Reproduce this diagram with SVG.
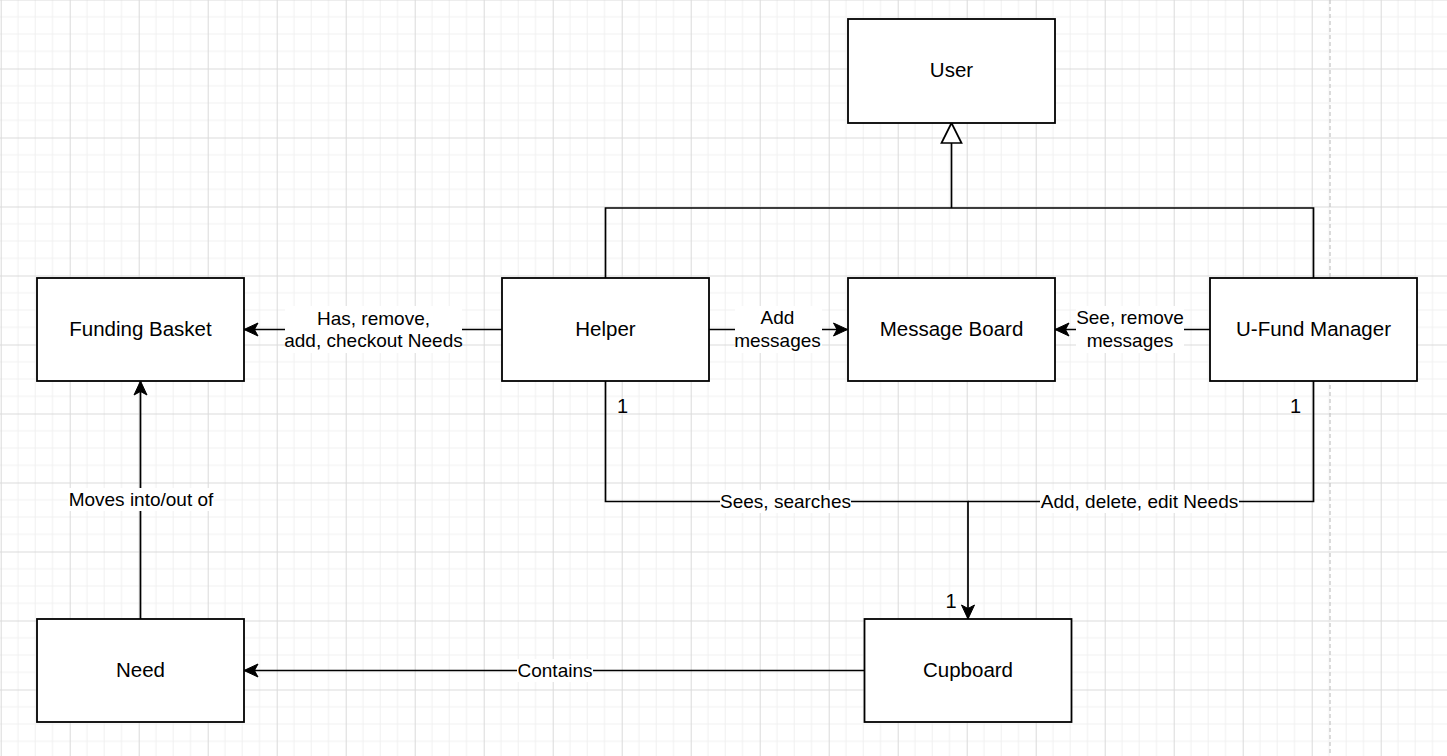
<svg xmlns="http://www.w3.org/2000/svg" width="1447" height="756" viewBox="0 0 1447 756">
<style>
.box{fill:#fff;stroke:#000;stroke-width:1.8}
.ln{fill:none;stroke:#000;stroke-width:1.7}
.nt{font-family:"Liberation Sans",Arial,sans-serif;font-size:20.5px;fill:#000;text-anchor:middle}
.et{font-family:"Liberation Sans",Arial,sans-serif;font-size:19px;fill:#000;text-anchor:middle}
.mt{font-family:"Liberation Sans",Arial,sans-serif;font-size:20px;fill:#000;text-anchor:middle}
.bg{fill:#fff}
</style>
<defs>
<pattern id="grid" x="0.7" y="-0.5" width="69" height="69" patternUnits="userSpaceOnUse">
<path d="M17.25,0V69M34.5,0V69M51.75,0V69M0,17.25H69M0,34.5H69M0,51.75H69" fill="none" stroke="#f0f0f0" stroke-width="1"/>
<path d="M0.5,0V69M0,0.5H69" fill="none" stroke="#dadada" stroke-width="1"/>
</pattern>
<marker id="arrow" viewBox="0 0 16 16" refX="15" refY="8" markerWidth="16" markerHeight="16" markerUnits="userSpaceOnUse" orient="auto">
<path d="M15,8 L1,1.5 L4.5,8 L1,14.5 Z" fill="#000" stroke="#000" stroke-width="1"/>
</marker>
<marker id="tri" viewBox="0 0 24 24" refX="22" refY="12" markerWidth="24" markerHeight="24" markerUnits="userSpaceOnUse" orient="auto">
<path d="M22,12 L2,2 L2,22 Z" fill="#fff" stroke="#000" stroke-width="1.7"/>
</marker>
</defs>
<rect width="1447" height="756" fill="#fff"/>
<rect width="1447" height="756" fill="url(#grid)"/>
<line x1="1330" y1="0" x2="1330" y2="756" stroke="#c4c4c4" stroke-width="1.2" stroke-dasharray="4 3"/>

<g id="connectors">
<path class="ln" d="M605.5,278 V208 H1313.5 V278"/>
<path class="ln" d="M951.5,208 V123" marker-end="url(#tri)"/>
<path class="ln" d="M502,329.5 H244" marker-end="url(#arrow)"/>
<path class="ln" d="M709,329.5 H847.5" marker-end="url(#arrow)"/>
<path class="ln" d="M1210,329.5 H1055" marker-end="url(#arrow)"/>
<path class="ln" d="M605.5,381 V501.5 H968 V619" marker-end="url(#arrow)"/>
<path class="ln" d="M1313.5,381 V501.5 H968"/>
<path class="ln" d="M864,670.5 H244" marker-end="url(#arrow)"/>
<path class="ln" d="M140.5,619 V381" marker-end="url(#arrow)"/>

<rect class="bg" x="285" y="306" width="177" height="47"/>
<text class="et" x="373.5" y="324.5">Has, remove,</text>
<text class="et" x="373.5" y="346.5">add, checkout Needs</text>

<rect class="bg" x="735" y="306" width="87" height="47"/>
<text class="et" x="777.5" y="323.5">Add</text>
<text class="et" x="777.5" y="346.5">messages</text>

<rect class="bg" x="1076" y="306" width="108" height="47"/>
<text class="et" x="1130" y="323.5">See, remove</text>
<text class="et" x="1130" y="346.5">messages</text>

<rect class="bg" x="720" y="490" width="131" height="23"/>
<text class="et" x="785.5" y="507.5">Sees, searches</text>

<rect class="bg" x="1040" y="490" width="199" height="23"/>
<text class="et" x="1139.5" y="507.5">Add, delete, edit Needs</text>

<rect class="bg" x="517" y="659" width="76" height="23"/>
<text class="et" x="555" y="676.5">Contains</text>

<rect class="bg" x="68" y="488" width="146" height="23"/>
<text class="et" x="141" y="505.5">Moves into/out of</text>

<text class="mt" x="622.5" y="412.5">1</text>
<text class="mt" x="1295.5" y="412.5">1</text>
<text class="mt" x="951" y="608">1</text>
</g>

<g id="user"><rect class="box" x="848" y="19" width="207" height="104"/><text class="nt" x="951.5" y="77">User</text></g>
<g id="funding-basket"><rect class="box" x="37" y="278" width="207" height="103"/><text class="nt" x="140.5" y="336">Funding Basket</text></g>
<g id="helper"><rect class="box" x="502" y="278" width="207" height="103"/><text class="nt" x="605.5" y="336">Helper</text></g>
<g id="message-board"><rect class="box" x="848" y="278" width="207" height="103"/><text class="nt" x="951.5" y="336">Message Board</text></g>
<g id="ufund-manager"><rect class="box" x="1210" y="278" width="207" height="103"/><text class="nt" x="1313.5" y="336">U-Fund Manager</text></g>
<g id="need"><rect class="box" x="37" y="619" width="207" height="103"/><text class="nt" x="140.5" y="677">Need</text></g>
<g id="cupboard"><rect class="box" x="864.5" y="619" width="207" height="103"/><text class="nt" x="968" y="677">Cupboard</text></g>
</svg>
